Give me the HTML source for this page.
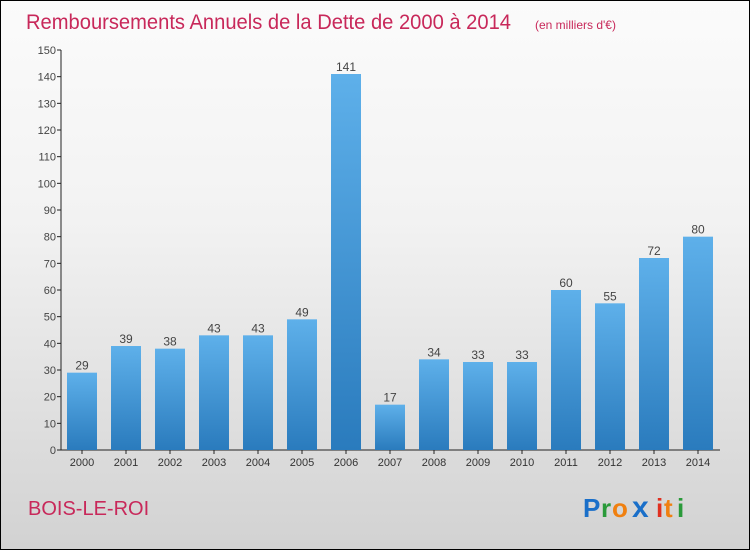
<!DOCTYPE html>
<html><head><meta charset="utf-8"><style>
body{margin:0}
#c{position:relative;width:750px;height:550px;box-sizing:border-box;border:1px solid #000;background:linear-gradient(#fbfbfb,#f2f2f2 40%,#d2d2d2);font-family:"Liberation Sans",sans-serif;overflow:hidden}
</style></head><body>
<div id="c">
<svg width="750" height="550" style="position:absolute;left:-1px;top:-1px" id="svg">
<defs><linearGradient id="bg" x1="0" y1="0" x2="0" y2="1"><stop offset="0" stop-color="#5eb0ea"/><stop offset="1" stop-color="#2a7bbd"/></linearGradient></defs>
<text x="26" y="29" font-size="21" fill="#c8285a" textLength="485" lengthAdjust="spacingAndGlyphs">Remboursements Annuels de la Dette de 2000 à 2014</text>
<text x="535" y="29" font-size="12" fill="#c8285a">(en milliers d'€)</text>
<text x="28" y="515" font-size="20" fill="#c8285a">BOIS-LE-ROI</text>
<g font-size="26" font-weight="bold">
<text x="583" y="517" fill="#1a6fc9">P</text><text x="601" y="517" fill="#2a9a3a">r</text><text x="612" y="517" fill="#f08010">o</text><text x="632" y="517" fill="#1a6fc9" font-size="30">x</text><text x="656" y="517" fill="#e03020">i</text><text x="664" y="517" fill="#f08010">t</text><text x="677" y="517" fill="#2a9a3a">i</text>
</g>
<g id="plot"></g>
</svg>
</div>
<script>
const categories=["2000","2001","2002","2003","2004","2005","2006","2007","2008","2009","2010","2011","2012","2013","2014"];
const values=[29,39,38,43,43,49,141,17,34,33,33,60,55,72,80];
const yTicks=[0,10,20,30,40,50,60,70,80,90,100,110,120,130,140,150];
const NS="http://www.w3.org/2000/svg";
const g=document.getElementById('plot');
const y=v=>450-v*400/150;
const x=i=>82+i*44;
function mk(t,a){const e=document.createElementNS(NS,t);for(const k in a)e.setAttribute(k,a[k]);g.appendChild(e);return e;}
let ax=mk('line',{x1:61,y1:y(150),x2:61,y2:450,stroke:'#222'});


let bx=mk('line',{x1:61,y1:450,x2:720,y2:450,stroke:'#222'});


yTicks.forEach(v=>{
 mk('line',{x1:57,x2:61,y1:y(v),y2:y(v),stroke:'#222'});
 const t=mk('text',{x:56,y:y(v)+4,'text-anchor':'end','font-size':11,fill:'#444'});t.textContent=v;
 
 
});
categories.forEach((c,i)=>{
 const r=mk('rect',{x:x(i)-15,y:y(values[i]),width:30,height:450-y(values[i]),fill:'url(#bg)'});
 
 
 mk('line',{x1:x(i),x2:x(i),y1:450,y2:454,stroke:'#222'});
 const t=mk('text',{x:x(i),y:466,'text-anchor':'middle','font-size':11,fill:'#333'});t.textContent=c;
 
 
 const l=mk('text',{x:x(i),y:y(values[i])-3,'text-anchor':'middle','font-size':12,fill:'#444'});l.textContent=values[i];
 
 
});
</script>
</body></html>
